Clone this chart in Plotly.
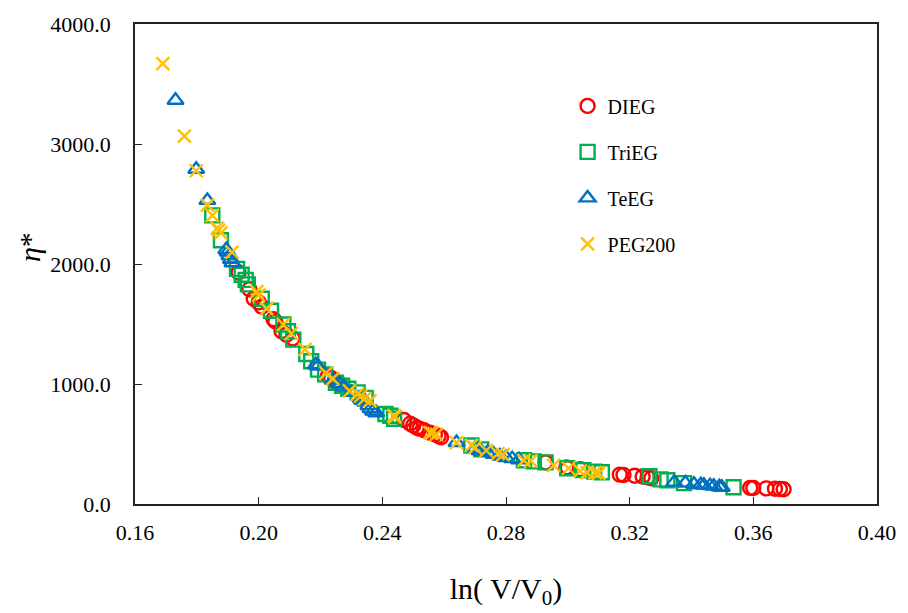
import plotly.graph_objects as go

# ---- data ----
DIEG_x = [0.1935, 0.1970, 0.1984, 0.2000, 0.2010, 0.2048, 0.2054, 0.2074, 0.2090, 0.2110, 0.2224,
          0.2234, 0.2246, 0.2260, 0.2470, 0.2490, 0.2500, 0.2512, 0.2520, 0.2535, 0.2554, 0.2570,
          0.2582, 0.2590, 0.2928, 0.2995, 0.3000, 0.3040, 0.3168, 0.3180, 0.3216, 0.3242, 0.3258,
          0.3270, 0.3590, 0.3600, 0.3642, 0.3670, 0.3686, 0.3698]
DIEG_y = [1930, 1790, 1710, 1680, 1645, 1540, 1521, 1440, 1410, 1380, 1066,
          1050, 1025, 1005, 700, 669, 655, 636, 628, 615, 595, 580,
          568, 556, 347, 305, 300, 290, 245, 242, 236, 229, 222,
          215, 134, 133, 130, 127, 125, 123]

TriEG_x = [0.1850, 0.1878, 0.1930, 0.1945, 0.1958, 0.1965, 0.2010, 0.2040, 0.2080, 0.2095, 0.2112,
           0.2154, 0.2170, 0.2192, 0.2215, 0.2250, 0.2270, 0.2290, 0.2320, 0.2346, 0.2410, 0.2426,
           0.2438, 0.2688, 0.2720, 0.2858, 0.2890, 0.2928, 0.2998, 0.3050, 0.3085, 0.3110, 0.3264,
           0.3300, 0.3322, 0.3376, 0.3536]
TriEG_y = [2405, 2198, 1959, 1910, 1868, 1830, 1711, 1610, 1496, 1440, 1370,
           1250, 1190, 1120, 1080, 1010, 985, 960, 930, 884, 750, 736,
           711, 488, 455, 364, 355, 347, 298, 282, 270, 264, 231,
           205, 198, 174, 140]

TeEG_x = [0.1731, 0.1798, 0.1834, 0.1895, 0.1900, 0.1905, 0.1910, 0.1915, 0.2185, 0.2192, 0.2240,
          0.2262, 0.2275, 0.2300, 0.2330, 0.2335, 0.2345, 0.2355, 0.2362, 0.2370, 0.2380, 0.2640,
          0.2700, 0.2714, 0.2720, 0.2740, 0.2760, 0.2780, 0.2800, 0.2820, 0.2842, 0.3344, 0.3380,
          0.3408, 0.3430, 0.3440, 0.3460, 0.3472, 0.3490, 0.3498]
TeEG_y = [3364, 2790, 2530, 2120, 2100, 2070, 2040, 2010, 1160, 1149, 1030,
          1000, 975, 930, 880, 865, 850, 820, 795, 775, 760, 512,
          465, 446, 440, 430, 415, 400, 388, 378, 368, 182, 175,
          165, 160, 157, 153, 149, 143, 140]

PEG_x = [0.1690, 0.1760, 0.1798, 0.1834, 0.1850, 0.1866, 0.1870, 0.1878, 0.1914, 0.1994, 0.2000,
         0.2026, 0.2080, 0.2106, 0.2150, 0.2218, 0.2240, 0.2294, 0.2320, 0.2330, 0.2342, 0.2360,
         0.2438, 0.2440, 0.2554, 0.2560, 0.2575, 0.2640, 0.2688, 0.2700, 0.2736, 0.2774, 0.2790,
         0.2858, 0.2880, 0.2954, 0.3002, 0.3040, 0.3062, 0.3088, 0.3100]
PEG_y = [3670, 3066, 2777, 2490, 2405, 2300, 2280, 2260, 2099, 1769, 1740,
         1628, 1496, 1421, 1289, 1091, 1045, 942, 915, 900, 876, 860,
         736, 725, 595, 590, 580, 512, 488, 470, 446, 421, 412,
         364, 360, 322, 298, 275, 262, 262, 258]

series = [
    ("DIEG", DIEG_x, DIEG_y, "circle-open", "#FF0000", 14),
    ("TriEG", TriEG_x, TriEG_y, "square-open", "#00B050", 14),
    ("TeEG", TeEG_x, TeEG_y, "triangle-up-open", "#0070C0", 14),
    ("PEG200", PEG_x, PEG_y, "x-thin-open", "#FFC000", 13),
]

FONT = "Liberation Serif, Times New Roman, serif"

fig = go.Figure()
for i, (name, xs, ys, sym, col, sz) in enumerate(series):
    fig.add_trace(go.Scatter(
        x=xs, y=ys, mode="markers", name=name, legendgroup=f"g{i}",
        marker=dict(symbol=sym, size=sz, color=col, line=dict(color=col, width=2.4)),
    ))

fig.update_layout(
    width=908, height=613,
    margin=dict(l=135, r=24, t=20, b=109),
    paper_bgcolor="white", plot_bgcolor="white",
    font=dict(family=FONT, color="black", size=22),
    showlegend=True,
    legend=dict(x=0.583, y=0.870, xanchor="left", yanchor="top",
                bgcolor="rgba(0,0,0,0)", font=dict(size=20, family=FONT),
                tracegroupgap=17, itemwidth=30),
    xaxis=dict(range=[0.16, 0.40], dtick=0.04, tick0=0.16, tickformat=".2f",
               showgrid=False, zeroline=False, showline=True, linecolor="#222",
               linewidth=1.5, mirror=True, ticks="inside", ticklen=7, tickcolor="#222",
               tickfont=dict(size=22, family=FONT), ticklabelstandoff=8,
               title=dict(text="ln( V/V<sub>0</sub>)", font=dict(size=30, family=FONT),
                          standoff=34)),
    yaxis=dict(range=[0, 4000], dtick=1000, tickformat=".1f",
               showgrid=False, zeroline=False, showline=True, linecolor="#222",
               linewidth=1.5, mirror=True, ticks="inside", ticklen=7, tickcolor="#222",
               tickfont=dict(size=22, family=FONT), ticklabelstandoff=18),
    annotations=[dict(text="<i>η</i>*", xref="paper", yref="paper",
                      x=-0.143, y=0.535, xanchor="center", yanchor="middle",
                      textangle=-90, showarrow=False, font=dict(size=30, family=FONT))],
)

fig.write_html("out.html")
